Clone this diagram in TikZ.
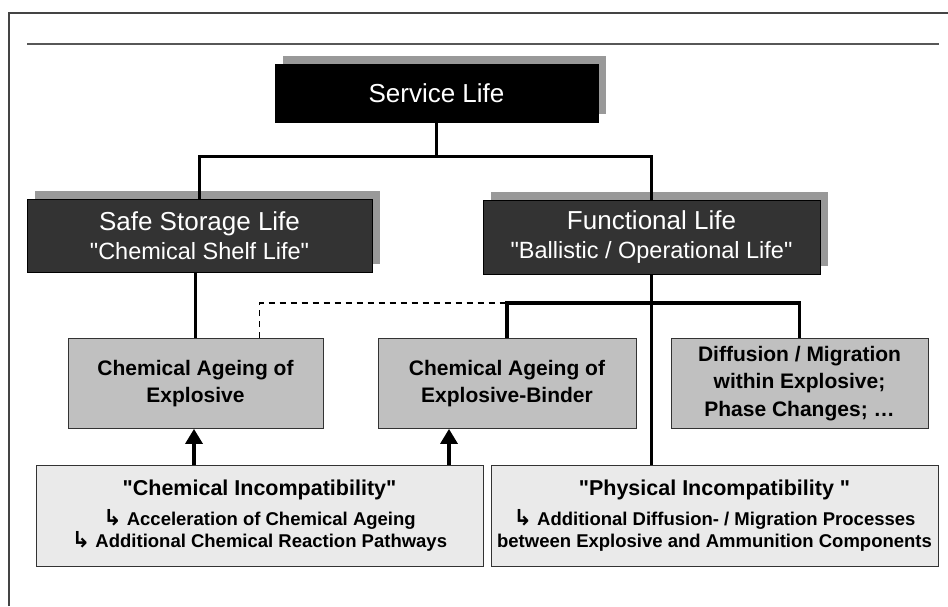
\documentclass[tikz,border=0pt]{standalone}
\usepackage{fontspec}
\setmainfont{Liberation Sans}[Ligatures=TeXOff]
\newfontfamily\symf{DejaVu Sans}[BoldFont={DejaVu Sans Bold}]
\usetikzlibrary{arrows.meta,shadows,calc}
\definecolor{darkbox}{HTML}{333333}
\definecolor{shadowgray}{HTML}{999999}
\definecolor{midbox}{HTML}{C0C0C0}
\definecolor{lightbox}{HTML}{EAEAEA}
\definecolor{framegray}{HTML}{444444}
\newcommand{\hk}{{\symf\bfseries\fontsize{22}{22}\selectfont ↳}}
\begin{document}
\begin{tikzpicture}[x=1pt,y=-1pt,
  shadowed/.style={copy shadow={shadow xshift=8pt,shadow yshift=8pt,fill=shadowgray,draw=none}},
  topbox/.style={shadowed,fill=black,draw=black,text=white,minimum width=323pt,minimum height=58pt,inner sep=0pt,font=\fontsize{26}{29}\selectfont},
  darkbox/.style={shadowed,fill=darkbox,draw=black,line width=0.8pt,text=white,inner sep=0pt,align=center,font=\fontsize{23.5}{29}\selectfont},
  midbox/.style={fill=midbox,draw=black!80,line width=0.8pt,text=black,inner sep=0pt,align=center,minimum height=90pt,font=\bfseries\fontsize{21}{27}\selectfont},
  lightbox/.style={fill=lightbox,draw=black!80,line width=0.8pt,text=black,inner sep=0pt,align=center,minimum width=447pt,minimum height=101pt,font=\bfseries\fontsize{18.5}{22}\selectfont},
  conn/.style={line width=3.4pt,black},
  arr/.style={line width=3.4pt,black,-{Triangle[length=15pt,width=17pt]}},
  dashconn/.style={line width=1.6pt,black,dash pattern=on 6pt off 5pt}
]
\useasboundingbox (0,0) rectangle (948,606);
\fill[white] (0,0) rectangle (948,606);
% frame and rule
\draw[framegray,line width=1.2pt] (9,606) -- (9,13) -- (948,13);
\draw[framegray!90,line width=2pt] (27,44) -- (939,44);

% nodes
\node[topbox] (service) at (436.5,93) {Service Life};
\node[darkbox,minimum width=345pt,minimum height=73pt] (safe) at (199.5,235.5)
  {{\fontsize{26}{29}\selectfont Safe Storage Life}\\"Chemical Shelf Life"};
\node[darkbox,minimum width=337pt,minimum height=74pt] (func) at (651.5,237)
  {{\fontsize{26}{29}\selectfont Functional Life}\\"Ballistic / Operational Life"};

\node[midbox,minimum width=255pt] (cae) at (195.5,383.5) {Chemical Ageing of\\Explosive};
\node[midbox,minimum width=258pt] (cab) at (507,383.5) {Chemical Ageing of\\Explosive-Binder};
\node[midbox,minimum width=257pt,font=\bfseries\fontsize{21}{27.5}\selectfont] (diff) at (799.5,383.5) {Diffusion / Migration\\within Explosive;\\Phase Changes; \dots};

\node[lightbox] (chemi) at (259.5,515.5)
  {{\fontsize{21.5}{22}\selectfont "Chemical Incompatibility"}\\[8pt]\hk\ Acceleration of Chemical Ageing\\\hk\ Additional Chemical Reaction Pathways};
\node[lightbox] (phys) at (714.5,515.5)
  {{\fontsize{21.5}{22}\selectfont "Physical Incompatibility "}\\[8pt]\hk\ Additional Diffusion- / Migration Processes\\between Explosive and Ammunition Components};

% connectors
\draw[conn] (service.south) -- ++(0,34) -| (safe.north);
\draw[conn] (service.south) -- ++(0,34) -| (func.north);
\draw[conn] (cae.north |- safe.south) -- (cae.north);
\draw[conn] (func.south) -- (func.south |- phys.north);
\coordinate (barL) at ($(cab.north)+(0,-35)$);
\draw[conn] (cab.north) -- (barL) -| (diff.north);
\coordinate (dashS) at ($(cae.north)+(64,0)$);
\draw[dashconn] (dashS) |- (barL);
\coordinate (t1) at ($(cae.south)+(-1.5,0)$);
\coordinate (t2) at ($(cab.south)+(-58,0)$);
\draw[arr] (t1 |- chemi.north) -- (t1);
\draw[arr] (t2 |- chemi.north) -- (t2);
\end{tikzpicture}
\end{document}
